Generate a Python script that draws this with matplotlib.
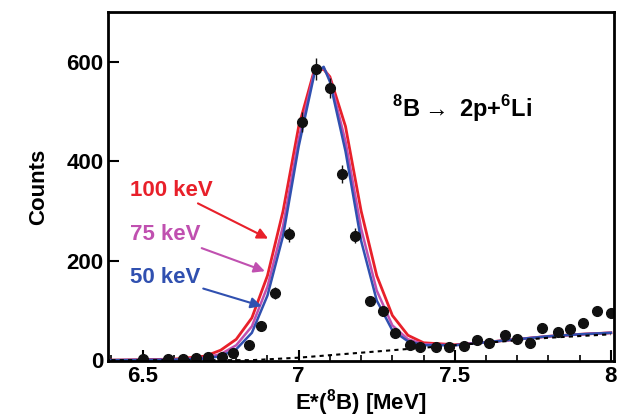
import numpy as np
import matplotlib.pyplot as plt

# data points
data_x = [6.50, 6.58, 6.63, 6.67, 6.71, 6.755, 6.79, 6.84, 6.88, 6.925, 6.97, 7.01, 7.055, 7.10,
          7.14, 7.18, 7.23, 7.27, 7.31, 7.355, 7.39, 7.44, 7.48, 7.53, 7.57, 7.61, 7.66,
          7.70, 7.74, 7.78, 7.83, 7.87, 7.91, 7.955, 8.0]
data_y = [3, 3, 3, 4, 6, 6, 14, 30, 68, 135, 253, 479, 586, 548,
          374, 250, 119, 99, 54, 30, 26, 26, 26, 28, 40, 34, 50,
          42, 34, 64, 56, 62, 74, 98, 95]
data_err = [4, 4, 4, 4, 4, 4, 6, 8, 10, 12, 15, 20, 22, 20, 18, 15, 10, 10, 8, 6, 6, 6, 6, 6,
            7, 7, 8, 7, 7, 8, 8, 8, 9, 10, 10]

# simulated curves for different resolutions
curve_x = [6.40, 6.60, 6.70, 6.75, 6.80, 6.85, 6.90, 6.95, 7.00, 7.05, 7.08, 7.10, 7.15,
           7.20, 7.25, 7.30, 7.35, 7.40, 7.50, 7.60, 7.70, 7.80, 7.90, 8.00]
blue_50 = [0, 1, 3, 8, 22, 55, 130, 250, 430, 575, 590, 560, 420,
           240, 120, 60, 38, 30, 30, 36, 42, 48, 52, 55]
mag_75 = [0, 1, 5, 12, 30, 68, 148, 270, 445, 580, 588, 565, 440,
          265, 140, 70, 42, 32, 30, 36, 42, 48, 52, 55]
red_100 = [0, 2, 8, 20, 42, 85, 170, 300, 470, 583, 585, 570, 470,
           300, 170, 90, 50, 35, 31, 36, 42, 48, 52, 55]

bg_x = [6.40, 6.85, 7.00, 7.20, 7.40, 7.60, 7.80, 8.00]
bg_y = [0, 0, 5, 15, 25, 35, 45, 52]

plt.rcParams['font.family'] = ['Liberation Sans', 'DejaVu Sans']
plt.rcParams['mathtext.fontset'] = 'custom'
plt.rcParams['mathtext.rm'] = 'Liberation Sans:bold'
plt.rcParams['mathtext.bf'] = 'Liberation Sans:bold'
plt.rcParams['font.weight'] = 'bold'
plt.rcParams['font.size'] = 16

fig = plt.figure(figsize=(6.33, 4.18), dpi=100)
ax = fig.add_axes([0.171, 0.136, 0.799, 0.835])

ax.plot(curve_x, red_100, color='#e8202a', lw=2)
ax.plot(curve_x, mag_75, color='#c050b0', lw=1.8)
ax.plot(curve_x, blue_50, color='#3050b0', lw=1.8)
ax.plot(bg_x, bg_y, color='black', lw=1.5, ls=(0, (2, 2)))
ax.errorbar(data_x, data_y, yerr=data_err, xerr=0.015, fmt='o', color='#111111',
            ms=7, elinewidth=1, capsize=0)

arrow_kw = dict(fontweight='bold', va='center')
ax.annotate('100 keV', xy=(6.91, 242), xytext=(6.46, 342), color='#e8202a',
            arrowprops=dict(arrowstyle='-|>', color='#e8202a', lw=1.5, shrinkA=0), **arrow_kw)
ax.annotate('75 keV', xy=(6.90, 177), xytext=(6.46, 252), color='#c050b0',
            arrowprops=dict(arrowstyle='-|>', color='#c050b0', lw=1.5, shrinkA=0), **arrow_kw)
ax.annotate('50 keV', xy=(6.89, 107), xytext=(6.46, 167), color='#3050b0',
            arrowprops=dict(arrowstyle='-|>', color='#3050b0', lw=1.5, shrinkA=0), **arrow_kw)
ax.text(7.30, 507, r'$^{8}$B$\rightarrow$ 2p+$^{6}$Li', fontsize=17,
        fontweight='bold', va='center')

ax.set_xlim(6.39, 8.01)
ax.set_ylim(-2, 700)
ax.set_xticks([6.5, 7, 7.5, 8])
ax.set_xticklabels(['6.5', '7', '7.5', '8'])
ax.set_xticks(np.arange(6.4, 8.01, 0.1), minor=True)
ax.set_yticks([0, 200, 400, 600])
ax.tick_params(direction='in', length=8, width=1.5, top=False, right=False)
ax.tick_params(which='minor', direction='in', length=4, width=1.2)
for s in ax.spines.values():
    s.set_linewidth(2)
ax.set_xlabel(r'E*($^{8}$B) [MeV]', fontweight='bold', labelpad=0)
ax.set_ylabel('Counts', fontweight='bold', labelpad=12)

fig.savefig('out.png', dpi=100)
